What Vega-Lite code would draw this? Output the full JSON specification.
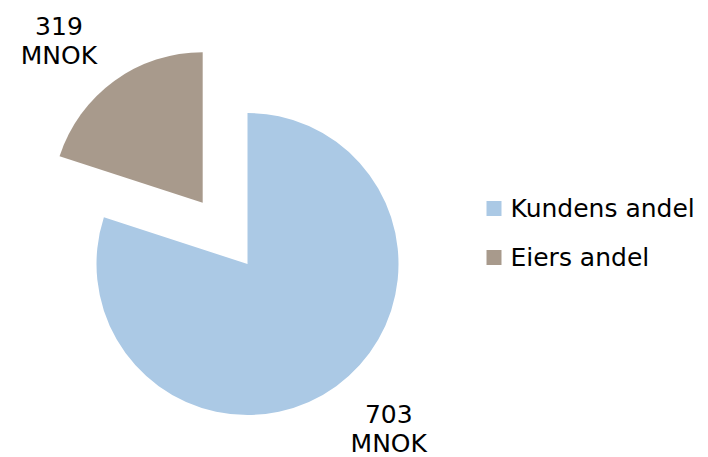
{
  "$schema": "https://vega.github.io/schema/vega-lite/v6.json",
  "width": 302,
  "height": 302,
  "autosize": {"type": "none"},
  "padding": {"left": 96.5, "top": 113, "right": 309.5, "bottom": 42},
  "config": {"view": {"stroke": null}, "font": "DejaVu Sans"},
  "data": {
    "values": [
      {"part": "Kundens andel", "share": 80, "rank": 1, "label": "703\nMNOK"},
      {"part": "Eiers andel", "share": 20, "rank": 2, "label": "319\nMNOK"}
    ]
  },
  "layer": [
    {
      "transform": [
        {"stack": "share", "groupby": [], "sort": [{"field": "rank", "order": "ascending"}], "as": ["s0", "s1"]},
        {"filter": "datum.part === 'Kundens andel'"}
      ],
      "mark": {"type": "arc", "outerRadius": 151},
      "encoding": {
        "theta": {"field": "s0", "type": "quantitative", "scale": {"domain": [0, 100]}},
        "theta2": {"field": "s1"},
        "color": {
          "field": "part",
          "type": "nominal",
          "scale": {"domain": ["Kundens andel", "Eiers andel"], "range": ["#abc9e5", "#a89a8c"]},
          "legend": {
            "orient": "none",
            "legendX": 385,
            "legendY": 83,
            "title": null,
            "symbolType": "square",
            "symbolSize": 225,
            "symbolStrokeWidth": 0,
            "labelFontSize": 25,
            "labelFont": "DejaVu Sans",
            "labelColor": "#000",
            "labelLimit": 400,
            "rowPadding": 23,
            "labelOffset": 4
          }
        }
      }
    },
    {
      "transform": [
        {"stack": "share", "groupby": [], "sort": [{"field": "rank", "order": "ascending"}], "as": ["s0", "s1"]},
        {"filter": "datum.part === 'Eiers andel'"}
      ],
      "mark": {"type": "arc", "outerRadius": 150.5, "xOffset": -44.8, "yOffset": -61.3},
      "encoding": {
        "theta": {"field": "s0", "type": "quantitative", "scale": {"domain": [0, 100]}},
        "theta2": {"field": "s1"},
        "color": {"field": "part", "type": "nominal"}
      }
    },
    {
      "mark": {"type": "text", "radius": 208, "fontSize": 25, "lineBreak": "\n", "lineHeight": 29, "font": "DejaVu Sans", "color": "#000", "xOffset": 19, "yOffset": -17},
      "encoding": {
        "theta": {"field": "share", "type": "quantitative", "stack": true, "scale": {"domain": [0, 100]}},
        "order": {"field": "rank", "type": "quantitative"},
        "detail": {"field": "part", "type": "nominal"},
        "text": {"field": "label", "type": "nominal"},
        "opacity": {"condition": {"test": "datum.part === 'Kundens andel'", "value": 1}, "value": 0}
      }
    },
    {
      "mark": {"type": "text", "radius": 218, "fontSize": 25, "lineBreak": "\n", "lineHeight": 29, "font": "DejaVu Sans", "color": "#000", "xOffset": -60.4, "yOffset": -60.6},
      "encoding": {
        "theta": {"field": "share", "type": "quantitative", "stack": true, "scale": {"domain": [0, 100]}},
        "order": {"field": "rank", "type": "quantitative"},
        "detail": {"field": "part", "type": "nominal"},
        "text": {"field": "label", "type": "nominal"},
        "opacity": {"condition": {"test": "datum.part === 'Eiers andel'", "value": 1}, "value": 0}
      }
    }
  ]
}
